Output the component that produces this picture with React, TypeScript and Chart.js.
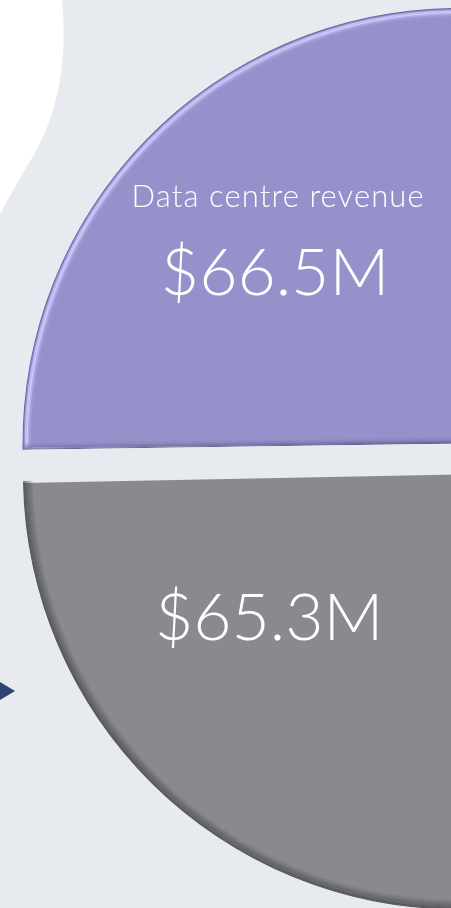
import React, { useEffect, useRef } from "react";
import { Chart, registerables } from "chart.js";

Chart.register(...registerables);

const categories = ["Data centre revenue", ""];
const values = [66.5, 65.3];
const valueLabels = ["$66.5M", "$65.3M"];
const colors = ["#9592cb", "#898a8e"];

const W = 916;
const H = 918;
const OFFSET = 62;

const bgPlugin = {
  id: "bg",
  beforeDraw(chart: any) {
    const ctx = chart.ctx;
    ctx.save();
    ctx.fillStyle = "#e7eaef";
    ctx.fillRect(0, 0, chart.width, chart.height);
    ctx.fillStyle = "#ffffff";
    ctx.beginPath();
    ctx.moveTo(0, 0);
    ctx.lineTo(62, 0);
    ctx.bezierCurveTo(68, 60, 58, 115, 32, 158);
    ctx.quadraticCurveTo(14, 188, 0, 214);
    ctx.closePath();
    ctx.fill();
    ctx.fillStyle = "#2e4273";
    ctx.beginPath();
    ctx.moveTo(0, 682);
    ctx.lineTo(15, 691);
    ctx.lineTo(0, 700);
    ctx.closePath();
    ctx.fill();
    ctx.restore();
  },
};

// geometry of the arc as Chart.js 4.5 draws it with an offset
function arcGeom(arc: any, offset: number) {
  const mid = (arc.startAngle + arc.endAngle) / 2;
  const t = offset / 4;
  const circ = arc.endAngle - arc.startAngle;
  const fix = 1 - Math.sin(Math.min(Math.PI, circ));
  return {
    x: arc.x + Math.cos(mid) * t,
    y: arc.y + Math.sin(mid) * t,
    r: arc.outerRadius + t * fix,
    s: arc.startAngle,
    e: arc.endAngle,
  };
}

function edgeLine(ctx: any, g: any, a: number, d: number, sign: number) {
  const nx = -Math.sin(a) * sign;
  const ny = Math.cos(a) * sign;
  ctx.beginPath();
  ctx.moveTo(g.x + nx * d - Math.cos(a) * 5, g.y + ny * d - Math.sin(a) * 5);
  ctx.lineTo(g.x + Math.cos(a) * (g.r + 5) + nx * d, g.y + Math.sin(a) * (g.r + 5) + ny * d);
  ctx.stroke();
}

const bevelPlugin = {
  id: "bevel",
  afterDatasetsDraw(chart: any) {
    const ctx = chart.ctx;
    const meta = chart.getDatasetMeta(0);
    meta.data.forEach((arc: any, i: number) => {
      const g = arcGeom(arc, OFFSET);
      ctx.save();
      ctx.beginPath();
      ctx.moveTo(g.x, g.y);
      ctx.arc(g.x, g.y, g.r, g.s, g.e);
      ctx.closePath();
      ctx.clip();
      ctx.lineCap = "butt";
      if (i === 0) {
        const rim: [number, string, number][] = [
          [0.5, "rgba(100,97,155,0.8)", 1.2],
          [1.7, "rgba(150,148,210,0.6)", 1.2],
          [3.0, "rgba(200,200,250,0.85)", 1.5],
          [4.5, "rgba(210,210,255,0.95)", 1.5],
          [6.0, "rgba(190,189,245,0.7)", 1.5],
          [7.5, "rgba(170,168,228,0.5)", 1.5],
          [9.0, "rgba(158,156,215,0.3)", 1.5],
        ];
        rim.forEach(([d, c, w]) => {
          ctx.strokeStyle = c;
          ctx.lineWidth = w;
          ctx.beginPath();
          ctx.arc(g.x, g.y, g.r - d, g.s, g.e);
          ctx.stroke();
        });
        const bands: [number, string][] = [
          [0.5, "rgba(80,77,125,0.85)"],
          [1.5, "rgba(95,92,145,0.75)"],
          [2.5, "rgba(105,102,155,0.65)"],
          [3.5, "rgba(115,112,168,0.5)"],
          [4.5, "rgba(122,119,178,0.4)"],
          [5.5, "rgba(130,127,188,0.3)"],
          [6.5, "rgba(138,135,195,0.2)"],
        ];
        bands.forEach(([d, c]) => {
          ctx.strokeStyle = c;
          ctx.lineWidth = 1.1;
          edgeLine(ctx, g, g.s, d, 1);
        });
      } else {
        const bands: [number, string][] = [
          [0.5, "rgba(105,106,110,0.85)"],
          [1.5, "rgba(150,151,155,0.8)"],
          [2.5, "rgba(195,196,200,0.85)"],
          [3.5, "rgba(205,206,210,0.85)"],
          [4.5, "rgba(180,181,185,0.7)"],
          [5.5, "rgba(165,166,170,0.5)"],
          [6.5, "rgba(155,156,160,0.35)"],
          [7.5, "rgba(148,149,153,0.2)"],
        ];
        bands.forEach(([d, c]) => {
          ctx.strokeStyle = c;
          ctx.lineWidth = 1.1;
          edgeLine(ctx, g, g.s, d, -1);
        });
        for (let k = 0; k < 10; k++) {
          ctx.strokeStyle = `rgba(55,56,60,${0.6 * (1 - k / 10)})`;
          ctx.lineWidth = 1.1;
          ctx.beginPath();
          ctx.arc(g.x, g.y, g.r - k - 0.5, g.s, g.e);
          ctx.stroke();
        }
      }
      ctx.restore();
    });
  },
  afterDraw(chart: any) {
    const ctx = chart.ctx;
    const meta = chart.getDatasetMeta(0);
    ctx.save();
    ctx.fillStyle = "#ffffff";
    ctx.textAlign = "center";
    ctx.textBaseline = "alphabetic";
    meta.data.forEach((arc: any, i: number) => {
      const g = arcGeom(arc, OFFSET);
      const cx = arc.x;
      const cy = arc.y;
      const R = g.r;
      if (i === 0) {
        ctx.font = "300 31px Lato";
        (ctx as any).letterSpacing = "1.1px";
        ctx.fillText(categories[0], cx - R * 0.413, cy - R * 0.579);
        ctx.font = "300 66px Lato";
        (ctx as any).letterSpacing = "0px";
        ctx.fillText(valueLabels[0], cx - R * 0.42, cy - R * 0.377);
      } else {
        ctx.font = "300 66px Lato";
        (ctx as any).letterSpacing = "0px";
        ctx.fillText(valueLabels[1], cx - R * 0.434, cy + R * 0.416);
      }
    });
    ctx.restore();
  },
};

export default function App() {
  const ref = useRef<HTMLCanvasElement>(null);
  useEffect(() => {
    if (!ref.current) return;
    const total = values[0] + values[1];
    const chart = new Chart(ref.current, {
      type: "pie",
      data: {
        labels: categories,
        datasets: [
          {
            data: values,
            backgroundColor: colors,
            borderWidth: 0,
            offset: OFFSET,
          } as any,
        ],
      },
      options: {
        responsive: false,
        animation: false,
        radius: 420,
        rotation: (-180 * values[0]) / total,
        layout: { padding: 0 },
        plugins: {
          legend: { display: false },
          tooltip: { enabled: false },
        },
        events: [],
      } as any,
      plugins: [bgPlugin, bevelPlugin],
    });
    return () => chart.destroy();
  }, []);
  return (
    <div
      style={{
        position: "absolute",
        left: 0,
        top: 0,
        width: 451,
        height: 908,
        overflow: "hidden",
      }}
    >
      <canvas ref={ref} width={W} height={H} style={{ display: "block" }} />
    </div>
  );
}
